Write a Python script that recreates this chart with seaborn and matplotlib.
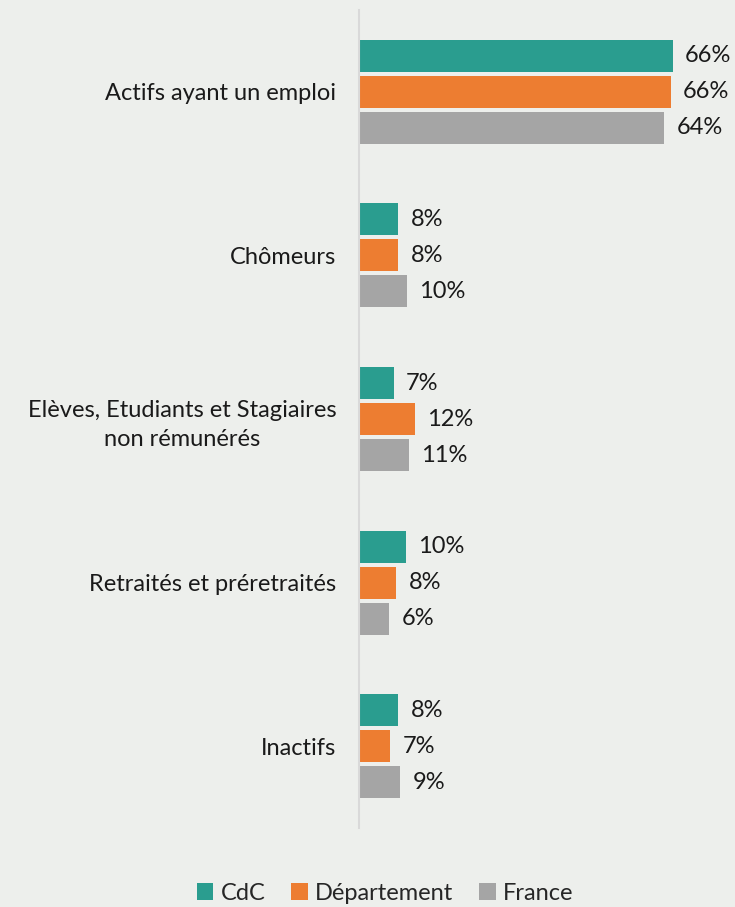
import pandas as pd
import numpy as np
import matplotlib
matplotlib.use("Agg")
import matplotlib.pyplot as plt
import seaborn as sns
from matplotlib.patches import Patch

# Data
categories = ["Actifs ayant un emploi", "Chômeurs",
              "Elèves, Etudiants et Stagiaires\nnon rémunérés",
              "Retraités et préretraités", "Inactifs"]
series = ["CdC", "Département", "France"]
cdc = [66.2, 8.3, 7.4, 10.0, 8.3]
departement = [65.8, 8.3, 11.8, 7.9, 6.6]
france = [64.4, 10.1, 10.6, 6.4, 8.8]
colors = ["#2A9D8F", "#ED7D31", "#A5A5A5"]

df = pd.DataFrame({
    "categorie": categories * 3,
    "zone": [s for s in series for _ in categories],
    "valeur": cdc + departement + france,
})

bg = "#EDEFEC"
sns.set_theme(style="white")
plt.rcParams["font.family"] = ["Lato", "DejaVu Sans"]

fig = plt.figure(figsize=(7.35, 9.07), dpi=100, facecolor=bg)
ax = fig.add_axes([0.488, 0.087, 0.484, 0.902])
ax.set_facecolor(bg)

sns.barplot(data=df, y="categorie", x="valeur", hue="zone", order=categories,
            hue_order=series, palette=colors, orient="h", width=0.66, gap=0.11,
            saturation=1, legend=False, linewidth=0, ax=ax)

# value labels
for bars in ax.containers:
    for bar in bars:
        w = bar.get_width()
        ax.text(w + 2.6, bar.get_y() + bar.get_height() / 2, f"{w:.0f}%",
                va="center", ha="left", fontsize=17, color="#1a1a1a")

ax.set_xlim(0, 75)
ax.set_ylim(4.5, -0.5)
ax.set_xlabel("")
ax.set_ylabel("")
ax.set_xticks([])
ax.tick_params(axis="y", length=0, pad=16, labelsize=17, labelcolor="#1a1a1a")
for lbl in ax.get_yticklabels():
    lbl.set_horizontalalignment("right")
    lbl.set_multialignment("center")
    lbl.set_linespacing(1.45)
for s in ["top", "right", "bottom"]:
    ax.spines[s].set_visible(False)
ax.spines["left"].set_color("#D9D9D9")
ax.spines["left"].set_linewidth(1.5)

handles = [Patch(facecolor=c, edgecolor="none") for c in colors]
fig.legend(handles, series, loc="center", bbox_to_anchor=(0.524, 0.015), ncol=3,
           frameon=False, fontsize=17, handlelength=0.7, handleheight=0.7,
           handletextpad=0.3, columnspacing=1.1)

fig.savefig("out.png", dpi=100, facecolor=bg)
